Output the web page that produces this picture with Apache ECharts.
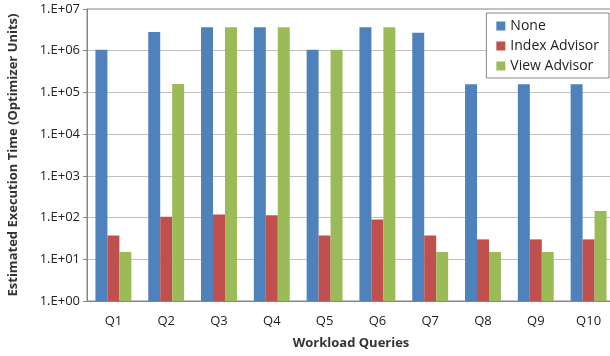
<!DOCTYPE html>
<html lang="en">
  <head>
    <meta charset="UTF-8" />
    <title>Estimated Execution Time</title>
    <script src="https://cdn.jsdelivr.net/npm/echarts@6/dist/echarts.min.js"></script>
    <style>
      html, body { margin: 0; padding: 0; background: #fff; }
      #main { width: 610px; height: 356px; }
    </style>
  </head>
  <body>
    <div id="main"></div>
    <script>
      // categories and series values
      var queries = ["Q1", "Q2", "Q3", "Q4", "Q5", "Q6", "Q7", "Q8", "Q9", "Q10"];
      var none = [1.05e6, 2.8e6, 3.65e6, 3.65e6, 1.05e6, 3.65e6, 2.68e6, 1.56e5, 1.56e5, 1.56e5];
      var indexAdvisor = [37, 105, 119, 113, 37, 90, 37, 30, 30, 30];
      var viewAdvisor = [15, 1.6e5, 3.65e6, 3.65e6, 1.05e6, 3.65e6, 15, 15, 15, 143];
      var seriesNames = ["None", "Index Advisor", "View Advisor"];

      var font = "Open Sans";
      var myChart = echarts.init(document.getElementById("main"));

      var option = {
        animation: false,
        color: ["#4F81BD", "#C0504D", "#9BBB59"],
        textStyle: { fontFamily: font },
        grid: {
          left: 87,
          right: -5,
          top: 9,
          bottom: 55,
          outerBoundsMode: "none",
          containLabel: false,
          show: true,
          borderColor: "#868686",
          borderWidth: 1,
        },
        legend: {
          orient: "vertical",
          right: 1,
          top: 13,
          itemWidth: 9,
          itemHeight: 9,
          itemGap: 6,
          padding: [6, 10, 5, 10],
          backgroundColor: "#fff",
          borderColor: "#868686",
          borderWidth: 1,
          borderRadius: 0,
          icon: "rect",
          textStyle: { fontFamily: font, fontSize: 14, color: "#222" },
          data: seriesNames,
        },
        xAxis: {
          type: "category",
          data: queries,
          name: "Workload Queries",
          nameLocation: "middle",
          nameGap: 36,
          nameTextStyle: { fontFamily: font, fontWeight: "bold", fontSize: 13, color: "#333" },
          axisLine: { lineStyle: { color: "#868686" } },
          axisTick: { show: false },
          axisLabel: { fontFamily: font, fontSize: 13, color: "#222", margin: 14 },
        },
        yAxis: {
          type: "log",
          logBase: 10,
          min: 1,
          max: 1e7,
          name: "Estimated Execution Time (Optimizer Units)",
          nameLocation: "middle",
          nameGap: 67,
          nameTextStyle: { fontFamily: font, fontWeight: "bold", fontSize: 13, color: "#333" },
          axisLine: { show: true, lineStyle: { color: "#868686" } },
          axisTick: { show: true, length: 4, lineStyle: { color: "#868686" } },
          splitLine: { lineStyle: { color: "#BFBFBF" } },
          axisLabel: {
            fontFamily: font,
            fontSize: 13,
            color: "#222",
            margin: 7,
            formatter: function (v) {
              var e = Math.round(Math.log10(v));
              return "1.E+" + (e < 10 ? "0" : "") + e;
            },
          },
        },
        series: [
          { name: seriesNames[0], type: "bar", data: none, barGap: "0%", barCategoryGap: "32%" },
          { name: seriesNames[1], type: "bar", data: indexAdvisor, barGap: "0%", barCategoryGap: "32%" },
          { name: seriesNames[2], type: "bar", data: viewAdvisor, barGap: "0%", barCategoryGap: "32%" },
        ],
      };

      myChart.setOption(option);
    </script>
  </body>
</html>
